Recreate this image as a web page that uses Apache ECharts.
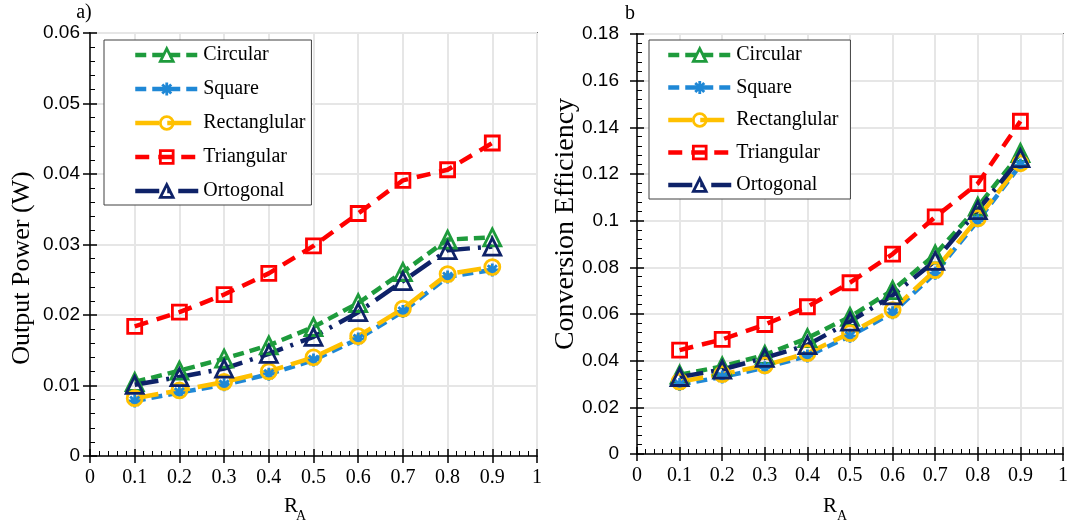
<!DOCTYPE html>
<html><head><meta charset="utf-8">
<script src="https://cdn.jsdelivr.net/npm/echarts@6/dist/echarts.min.js"></script>
<style>html,body{margin:0;padding:0;background:#fff}#c{width:1071px;height:523px}</style>
</head><body><div id="c"></div>
<script>
// ---- data ----
const ratioA = [0.1, 0.2, 0.3, 0.4, 0.5, 0.6, 0.7, 0.8, 0.9];
const seriesNames = ['Circular', 'Square', 'Rectanglular', 'Triangular', 'Ortogonal'];

const powerCircular    = [0.0105, 0.0121, 0.0138, 0.0157, 0.0183, 0.0217, 0.0261, 0.0307, 0.0310];
const powerSquare      = [0.0078, 0.0090, 0.0101, 0.0116, 0.0136, 0.0166, 0.0205, 0.0254, 0.0264];
const powerRectangular = [0.0082, 0.0093, 0.0105, 0.0120, 0.0140, 0.0170, 0.0209, 0.0258, 0.0268];
const powerTriangular  = [0.0184, 0.0204, 0.0229, 0.0259, 0.0298, 0.0344, 0.0391, 0.0406, 0.0444];
const powerOrtogonal   = [0.0101, 0.0112, 0.0124, 0.0145, 0.0169, 0.0204, 0.0248, 0.0292, 0.0297];

const effCircular    = [0.0340, 0.0375, 0.0425, 0.0497, 0.0588, 0.0702, 0.0855, 0.1060, 0.1290];
const effSquare      = [0.0298, 0.0330, 0.0370, 0.0420, 0.0505, 0.0605, 0.0775, 0.1000, 0.1238];
const effRectangular = [0.0310, 0.0342, 0.0380, 0.0432, 0.0518, 0.0617, 0.0788, 0.1010, 0.1246];
const effTriangular  = [0.0445, 0.0491, 0.0555, 0.0631, 0.0734, 0.0857, 0.1016, 0.1159, 0.1426];
const effOrtogonal   = [0.0330, 0.0362, 0.0412, 0.0467, 0.0567, 0.0680, 0.0828, 0.1045, 0.1268];

const xRange = {min: 0, max: 1, interval: 0.1};
const powerRange = {min: 0, max: 0.06, interval: 0.01};
const effRange = {min: 0, max: 0.18, interval: 0.02};

const powerData = [powerCircular, powerSquare, powerRectangular, powerTriangular, powerOrtogonal];
const effData = [effCircular, effSquare, effRectangular, effTriangular, effOrtogonal];

// ---- styles ----
const SERIF = '"Liberation Serif", "Times New Roman", serif';
const SANS = '"Liberation Sans", Arial, sans-serif';
const asterisk = 'path://M10 0 L10 20 M0 10 L20 10 M3 3 L17 17 M3 17 L17 3';
const styles = {
  'Circular':     {color: '#1E9B3C', dash: [11, 6], symbol: 'triangle', size: 17},
  'Square':       {color: '#1F88D6', dash: [11, 6], symbol: asterisk, size: 13},
  'Rectanglular': {color: '#FFC000', dash: [24, 8], symbol: 'circle', size: 15},
  'Triangular':   {color: '#FF0000', dash: [14, 9], symbol: 'rect', size: 14},
  'Ortogonal':    {color: '#0E2268', dash: [24, 8, 3, 8], symbol: 'triangle', size: 17}
};

function makeSeries(name, vals, xi, yi) {
  const s = styles[name];
  return {
    name: name, type: 'line', xAxisIndex: xi, yAxisIndex: yi,
    data: ratioA.map((x, i) => [x, vals[i]]),
    symbol: s.symbol, symbolSize: s.size,
    lineStyle: {color: s.color, width: 4.5, type: s.dash},
    itemStyle: {color: 'rgba(0,0,0,0)', borderColor: s.color, borderWidth: 2.8},
    emphasis: {disabled: true},
    animation: false
  };
}

function mainX(grid) {
  return Object.assign({
    type: 'value', gridIndex: grid, position: 'bottom',
    axisLine: {show: true, onZero: false, lineStyle: {color: '#000', width: 1.5}},
    axisTick: {show: true, inside: true, length: 7, lineStyle: {color: '#000', width: 1.5}},
    minorTick: {show: true, splitNumber: 5, length: 5, lineStyle: {color: '#000', width: 1}},
    axisLabel: {color: '#000', fontFamily: SERIF, fontSize: 20, margin: 12},
    splitLine: {show: true, lineStyle: {color: '#e6e6e6', width: 2}}
  }, xRange);
}
function outerX(grid) {
  return Object.assign({
    type: 'value', gridIndex: grid, position: 'bottom',
    axisLine: {show: false}, axisLabel: {show: false}, splitLine: {show: false},
    axisTick: {show: true, inside: false, length: 7, lineStyle: {color: '#000', width: 1.5}}
  }, xRange);
}
function mainY(grid, range, margin) {
  return Object.assign({
    type: 'value', gridIndex: grid, position: 'left',
    axisLine: {show: true, onZero: false, lineStyle: {color: '#000', width: 1.5}},
    axisTick: {show: true, inside: true, length: 7, lineStyle: {color: '#000', width: 1.5}},
    minorTick: {show: true, splitNumber: 5, length: 5, lineStyle: {color: '#000', width: 1}},
    axisLabel: {color: '#000', fontFamily: SANS, fontSize: 19, margin: margin},
    splitLine: {show: true, lineStyle: {color: '#e6e6e6', width: 2}}
  }, range);
}
function outerY(grid, range) {
  return Object.assign({
    type: 'value', gridIndex: grid, position: 'left',
    axisLine: {show: false}, axisLabel: {show: false}, splitLine: {show: false},
    axisTick: {show: true, inside: false, length: 7, lineStyle: {color: '#000', width: 1.5}}
  }, range);
}

function legendFor(left, top, pad, gap) {
  return {
    left: left, top: top, orient: 'vertical',
    data: seriesNames,
    itemWidth: 63, itemHeight: 16, itemGap: gap,
    padding: pad,
    borderColor: '#404040', borderWidth: 1, backgroundColor: '#fff',
    lineStyle: {width: 'inherit', type: 'inherit'},
    itemStyle: {borderWidth: 'inherit'},
    textStyle: {fontFamily: SERIF, fontSize: 20, color: '#000', lineHeight: 20},
    selectedMode: false
  };
}

const series = [];
seriesNames.forEach((n, i) => series.push(makeSeries(n, powerData[i], 0, 0)));
seriesNames.forEach((n, i) => series.push(makeSeries(n, effData[i], 2, 2)));

const option = {
  backgroundColor: '#fff',
  animation: false,
  grid: [
    {left: 90, right: 534, top: 33, bottom: 67, show: true, borderColor: '#000', borderWidth: 1.5, backgroundColor: 'transparent'},
    {left: 637, right: 5, top: 34, bottom: 69, show: true, borderColor: '#000', borderWidth: 1.5, backgroundColor: 'transparent'}
  ],
  xAxis: [mainX(0), outerX(0), mainX(1), outerX(1)],
  yAxis: [mainY(0, powerRange, 10), outerY(0, powerRange), mainY(1, effRange, 18), outerY(1, effRange)],
  legend: [
    legendFor(104, 40, [5, 6, 4, 29], 14),
    legendFor(649, 40, [5, 12, 4, 17], 12.5)
  ],
  series: series,
  graphic: [
    {type: 'text', x: 84, y: 13, style: {text: 'a)', font: '20px ' + SERIF, fill: '#000', align: 'center', verticalAlign: 'middle'}},
    {type: 'text', x: 630, y: 14, style: {text: 'b', font: '20px ' + SERIF, fill: '#000', align: 'center', verticalAlign: 'middle'}},
    {type: 'text', x: 22, y: 268, rotation: Math.PI / 2, style: {text: 'Output Power (W)', font: '26px ' + SERIF, fill: '#000', align: 'center', verticalAlign: 'middle'}},
    {type: 'text', x: 566, y: 224, rotation: Math.PI / 2, style: {text: 'Conversion Efficiency', font: '28px ' + SERIF, fill: '#000', align: 'center', verticalAlign: 'middle'}},
    {type: 'text', x: 291, y: 506, style: {text: 'R', font: '21px ' + SERIF, fill: '#000', align: 'center', verticalAlign: 'middle'}},
    {type: 'text', x: 301, y: 516, style: {text: 'A', font: '14px ' + SERIF, fill: '#000', align: 'center', verticalAlign: 'middle'}},
    {type: 'text', x: 830, y: 506, style: {text: 'R', font: '21px ' + SERIF, fill: '#000', align: 'center', verticalAlign: 'middle'}},
    {type: 'text', x: 842, y: 516, style: {text: 'A', font: '14px ' + SERIF, fill: '#000', align: 'center', verticalAlign: 'middle'}}
  ]
};

const chart = echarts.init(document.getElementById('c'), null, {renderer: 'canvas'});
chart.setOption(option);
</script>
</body></html>
